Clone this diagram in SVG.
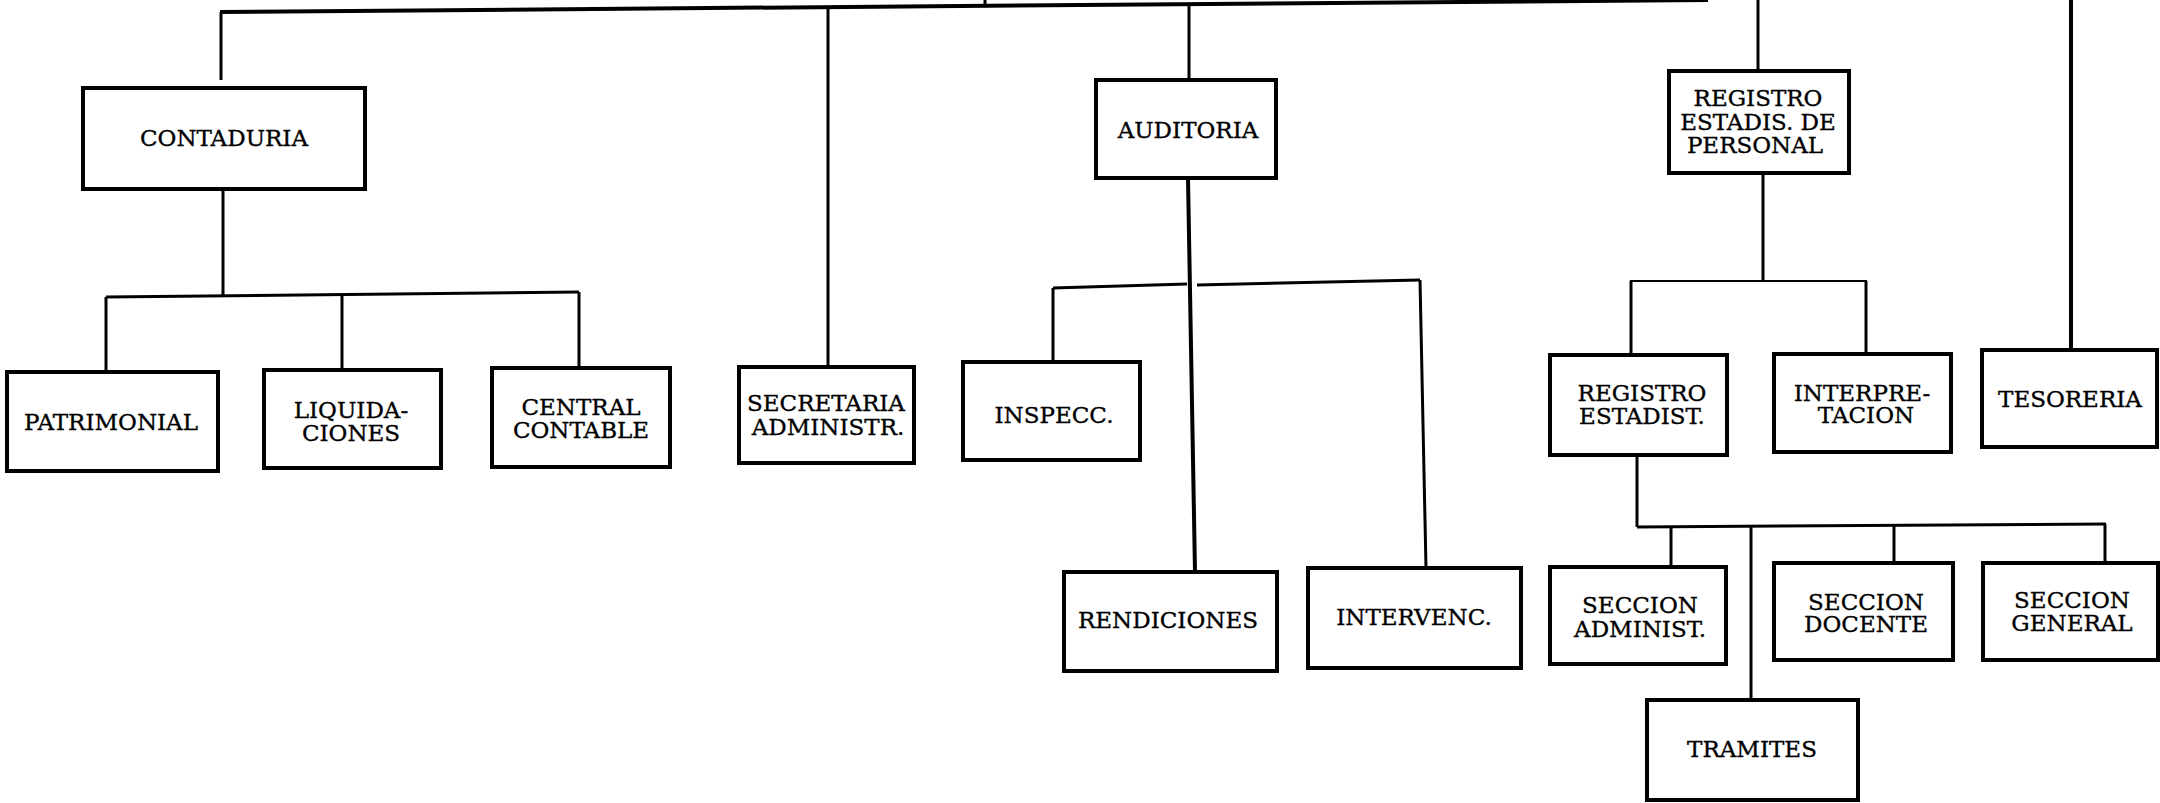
<svg xmlns="http://www.w3.org/2000/svg" width="2160" height="803" viewBox="0 0 2160 803">
<style>
.box{fill:#fff;stroke:#000;stroke-width:4}
.ln{fill:none;stroke:#000;stroke-width:3}
.thin{stroke-width:2.2}
.thick{stroke-width:4}
text{font-family:"DejaVu Serif","Liberation Serif",serif;font-size:23px;fill:#000;stroke:#000;stroke-width:0.35;text-anchor:middle}
</style>
<rect width="2160" height="803" fill="#fff"/>
<g id="connectors">
<line class="ln thick" x1="220" y1="12" x2="1708" y2="0"/>
<line class="ln" x1="985" y1="0" x2="985" y2="6"/>
<line class="ln" x1="221" y1="12" x2="221" y2="80"/>
<line class="ln" x1="828" y1="7" x2="828" y2="367"/>
<line class="ln" x1="1189" y1="4" x2="1189" y2="80"/>
<line class="ln" x1="1758" y1="0" x2="1758" y2="71"/>
<line class="ln thick" x1="2071" y1="0" x2="2071" y2="350"/>
<line class="ln" x1="223" y1="189" x2="223" y2="295"/>
<line class="ln" x1="106" y1="297" x2="579" y2="292"/>
<line class="ln" x1="106" y1="297" x2="106" y2="372"/>
<line class="ln" x1="342" y1="295" x2="342" y2="370"/>
<line class="ln" x1="579" y1="292" x2="579" y2="368"/>
<line class="ln thick" x1="1188" y1="178" x2="1195" y2="572"/>
<line class="ln" x1="1053" y1="288" x2="1187" y2="284"/>
<line class="ln" x1="1053" y1="288" x2="1053" y2="362"/>
<line class="ln" x1="1197" y1="285" x2="1420" y2="280"/>
<line class="ln" x1="1420" y1="280" x2="1426" y2="568"/>
<line class="ln" x1="1763" y1="173" x2="1763" y2="281"/>
<line class="ln thin" x1="1630" y1="281" x2="1867" y2="281"/>
<line class="ln" x1="1631" y1="281" x2="1631" y2="355"/>
<line class="ln" x1="1866" y1="281" x2="1866" y2="354"/>
<line class="ln" x1="1637" y1="455" x2="1637" y2="527"/>
<line class="ln" x1="1637" y1="527" x2="2106" y2="524"/>
<line class="ln" x1="1671" y1="526" x2="1671" y2="567"/>
<line class="ln" x1="1751" y1="526" x2="1751" y2="700"/>
<line class="ln" x1="1894" y1="525" x2="1894" y2="563"/>
<line class="ln" x1="2105" y1="524" x2="2105" y2="563"/>
</g>
<g id="contaduria"><rect class="box" x="83" y="88" width="282" height="101"/><text x="224" y="146">CONTADURIA</text></g>
<g id="patrimonial"><rect class="box" x="7" y="372" width="211" height="99"/><text x="111" y="430">PATRIMONIAL</text></g>
<g id="liquidaciones"><rect class="box" x="264" y="370" width="177" height="98"/><text x="351" y="418">LIQUIDA-</text><text x="351" y="441">CIONES</text></g>
<g id="central-contable"><rect class="box" x="492" y="368" width="178" height="99"/><text x="581" y="415">CENTRAL</text><text x="581" y="438">CONTABLE</text></g>
<g id="secretaria"><rect class="box" x="739" y="367" width="175" height="96"/><text x="826" y="411">SECRETARIA</text><text x="828" y="435">ADMINISTR.</text></g>
<g id="auditoria"><rect class="box" x="1096" y="80" width="180" height="98"/><text x="1188" y="138">AUDITORIA</text></g>
<g id="inspecc"><rect class="box" x="963" y="362" width="177" height="98"/><text x="1054" y="423">INSPECC.</text></g>
<g id="rendiciones"><rect class="box" x="1064" y="572" width="213" height="99"/><text x="1168" y="628">RENDICIONES</text></g>
<g id="intervenc"><rect class="box" x="1308" y="568" width="213" height="100"/><text x="1414" y="625">INTERVENC.</text></g>
<g id="registro-personal"><rect class="box" x="1669" y="71" width="180" height="102"/><text x="1758" y="106">REGISTRO</text><text x="1758" y="130">ESTADIS. DE</text><text x="1755" y="153">PERSONAL</text></g>
<g id="registro-estadist"><rect class="box" x="1550" y="355" width="177" height="100"/><text x="1642" y="401">REGISTRO</text><text x="1642" y="424">ESTADIST.</text></g>
<g id="interpretacion"><rect class="box" x="1774" y="354" width="177" height="98"/><text x="1862" y="401">INTERPRE-</text><text x="1866" y="423">TACION</text></g>
<g id="tesoreria"><rect class="box" x="1982" y="350" width="175" height="97"/><text x="2070" y="407">TESORERIA</text></g>
<g id="seccion-administ"><rect class="box" x="1550" y="567" width="176" height="97"/><text x="1640" y="613">SECCION</text><text x="1640" y="637">ADMINIST.</text></g>
<g id="seccion-docente"><rect class="box" x="1774" y="563" width="179" height="97"/><text x="1866" y="610">SECCION</text><text x="1866" y="632">DOCENTE</text></g>
<g id="seccion-general"><rect class="box" x="1983" y="563" width="175" height="97"/><text x="2072" y="608">SECCION</text><text x="2072" y="631">GENERAL</text></g>
<g id="tramites"><rect class="box" x="1647" y="700" width="211" height="100"/><text x="1752" y="757">TRAMITES</text></g>
</svg>
